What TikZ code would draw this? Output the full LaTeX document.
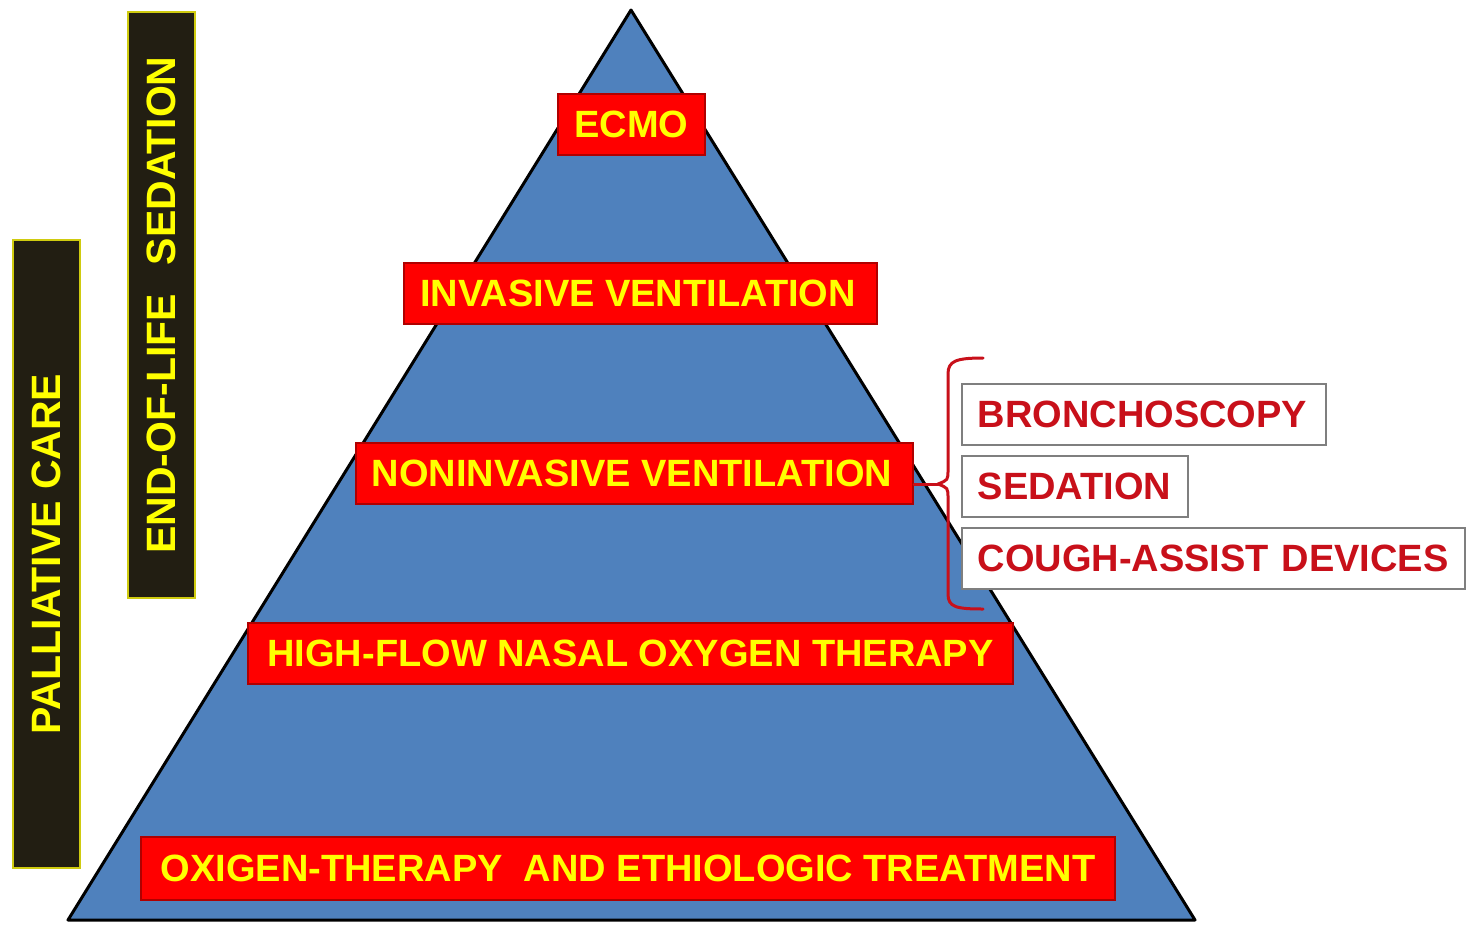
\documentclass[tikz,border=0pt]{standalone}
\usepackage{fontspec}
\setmainfont{Liberation Sans}
\begin{document}
\definecolor{pyrblue}{HTML}{4F81BD}
\definecolor{boxred}{HTML}{FF0000}
\definecolor{boxedge}{HTML}{B00000}
\definecolor{txtyellow}{HTML}{FFFF00}
\definecolor{darkred}{HTML}{C8101A}
\definecolor{barfill}{HTML}{221E12}
\definecolor{baredge}{HTML}{CFCB10}
\definecolor{greyedge}{HTML}{7F7F7F}
\begin{tikzpicture}[x=1pt,y=-1pt,
  level/.style={draw=boxedge, line width=2pt, fill=boxred, text=txtyellow,
    font=\fontsize{38}{40}\selectfont\bfseries, inner sep=0pt,
    minimum height=61pt},
  side/.style={draw=greyedge, line width=1.5pt, fill=white, text=darkred,
    font=\fontsize{38}{40}\selectfont\bfseries, inner xsep=16pt, inner ysep=0pt,
    minimum height=61pt, align=left, anchor=north west},
  bar/.style={draw=baredge, line width=1.5pt, fill=barfill, text=txtyellow,
    font=\fontsize{41}{44}\selectfont\bfseries, rotate=90, inner sep=0pt,
    minimum height=67pt},
  brace/.style={draw=darkred, line width=3pt, line cap=round, line join=round}]
\useasboundingbox (0,0) rectangle (1466,924);

% pyramid
\coordinate (apex) at (631,10);
\coordinate (bl) at (68,920);
\coordinate (br) at (1195,920);
\draw[fill=pyrblue, line width=3pt, line join=round] (apex) -- (br) -- (bl) -- cycle;

% levels of the pyramid
\node[level, minimum width=147pt] (ecmo) at (631.5,124.5) {ECMO};
\node[level, minimum width=473pt] (inv) at (640.5,293.5) {\hspace{-5pt}INVASIVE VENTILATION};
\node[level, minimum width=557pt] (niv) at (634.5,473.5) {\hspace{-5pt}NONINVASIVE VENTILATION};
\node[level, minimum width=765pt] (hfno) at (630.5,653) {HIGH-FLOW NASAL OXYGEN THERAPY};
\node[level, minimum width=974pt, minimum height=63pt] (oxy) at (628,868.5) {OXIGEN-THERAPY\ \ AND ETHIOLOGIC TREATMENT};

% side bars
\node[bar, minimum width=628pt] (pall) at (46.5,554) {PALLIATIVE CARE};
\node[bar, minimum width=586pt] (eol) at (161.5,305) {END-OF-LIFE\hspace{0.7em}SEDATION};

% adjuncts to noninvasive ventilation
\node[side, text width=332pt] (bron) at (961,383) {BRONCHOSCOPY};
\node[side, text width=194pt] (sed) at (961,455) {SEDATION};
\node[side, text width=471pt] (cough) at (961,527) {COUGH-ASSIST DEVICES};

% brace grouping the adjuncts
\coordinate (btop) at (983,358);
\coordinate (btip) at (938,484);
\coordinate (bbot) at (983,609);
\draw[brace] (btop) .. controls (956,358) and (948,361) .. (948,374)
  -- (948,470) .. controls (948,480) .. (btip)
  .. controls (948,488) .. (948,498) -- (948,594)
  .. controls (948,607) and (956,609) .. (bbot);
\draw[brace] (btip -| niv.east) -- (btip);
\end{tikzpicture}
\end{document}
